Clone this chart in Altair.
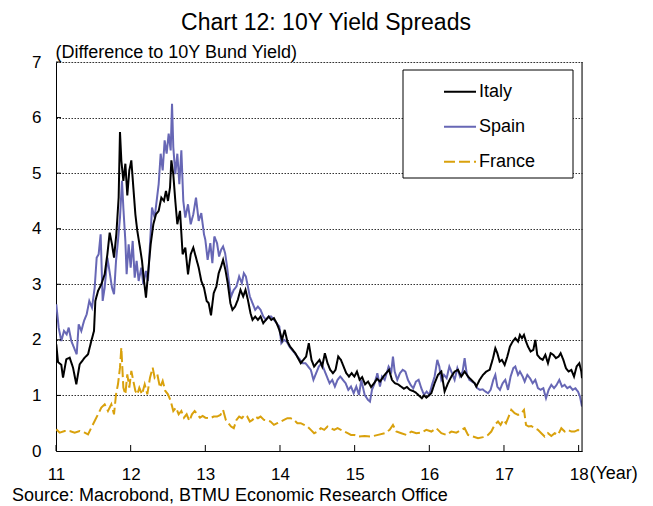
import altair as alt
import pandas as pd

# ---------------- data ----------------
italy_t = [2011.004, 2011.027, 2011.071, 2011.094, 2011.138, 2011.183, 2011.228, 2011.272, 2011.317, 2011.384,
           2011.429, 2011.473, 2011.509, 2011.527, 2011.563, 2011.607, 2011.652, 2011.688, 2011.719, 2011.750,
           2011.777, 2011.808, 2011.839, 2011.857, 2011.875, 2011.902, 2011.929, 2011.955, 2011.982, 2012.009,
           2012.036, 2012.063, 2012.089, 2012.125, 2012.152, 2012.179, 2012.205, 2012.232, 2012.268, 2012.304,
           2012.339, 2012.375, 2012.411, 2012.446, 2012.473, 2012.500, 2012.527, 2012.545, 2012.571, 2012.598,
           2012.625, 2012.661, 2012.696, 2012.732, 2012.768, 2012.804, 2012.839, 2012.875, 2012.911, 2012.946,
           2012.982, 2013.018, 2013.045, 2013.076, 2013.112, 2013.148, 2013.179, 2013.211, 2013.238, 2013.269,
           2013.300, 2013.336, 2013.363, 2013.399, 2013.435, 2013.471, 2013.507, 2013.538, 2013.570, 2013.605,
           2013.632, 2013.668, 2013.704, 2013.740, 2013.776, 2013.812, 2013.848, 2013.883, 2013.919, 2013.955,
           2013.991, 2014.027, 2014.063, 2014.099, 2014.135, 2014.170, 2014.206, 2014.242, 2014.278, 2014.314,
           2014.350, 2014.386, 2014.422, 2014.457, 2014.493, 2014.529, 2014.565, 2014.601, 2014.637, 2014.673,
           2014.709, 2014.744, 2014.780, 2014.816, 2014.852, 2014.888, 2014.924, 2014.960, 2014.996, 2015.031,
           2015.067, 2015.100, 2015.140, 2015.180, 2015.220, 2015.260, 2015.300, 2015.340, 2015.380, 2015.420,
           2015.460, 2015.500, 2015.540, 2015.580, 2015.620, 2015.660, 2015.700, 2015.740, 2015.780, 2015.820,
           2015.860, 2015.900, 2015.930, 2015.960, 2016.027, 2016.071, 2016.116, 2016.161, 2016.205, 2016.250,
           2016.295, 2016.339, 2016.384, 2016.429, 2016.473, 2016.518, 2016.563, 2016.607, 2016.629, 2016.674,
           2016.719, 2016.763, 2016.808, 2016.853, 2016.884, 2016.911, 2016.942, 2016.973, 2017.009, 2017.045,
           2017.080, 2017.116, 2017.152, 2017.188, 2017.214, 2017.241, 2017.268, 2017.295, 2017.321, 2017.357,
           2017.393, 2017.420, 2017.446, 2017.482, 2017.518, 2017.554, 2017.589, 2017.625, 2017.661, 2017.696,
           2017.732, 2017.759, 2017.795, 2017.830, 2017.866, 2017.902, 2017.938, 2017.973, 2018.009, 2018.036,
           2018.045]
italy_v = [1.92, 1.60, 1.55, 1.32, 1.65, 1.68, 1.50, 1.20, 1.56, 1.68,
           1.74, 1.98, 2.16, 2.70, 2.88, 3.00, 3.18, 3.54, 3.93, 3.72,
           3.48, 3.90, 4.56, 5.74, 5.23, 4.86, 5.17, 4.60, 5.05, 5.23,
           4.74, 4.26, 3.96, 3.66, 3.42, 3.06, 2.76, 3.18, 3.72, 4.08,
           4.26, 4.32, 4.56, 4.50, 4.68, 4.50, 4.74, 5.23, 4.98, 4.50,
           4.08, 4.32, 3.54, 3.66, 3.18, 3.54, 3.66, 3.48, 3.30, 3.06,
           2.94, 2.70, 2.66, 2.44, 2.84, 2.96, 3.20, 3.32, 3.44, 3.26,
           3.02, 2.66, 2.54, 2.60, 2.72, 2.90, 2.78, 2.90, 2.72, 2.48,
           2.36, 2.42, 2.36, 2.42, 2.30, 2.36, 2.42, 2.36, 2.39, 2.30,
           2.18, 2.00, 2.18, 1.97, 1.88, 1.82, 1.76, 1.67, 1.58, 1.64,
           1.70, 1.94, 1.64, 1.52, 1.58, 1.64, 1.52, 1.76, 1.58, 1.46,
           1.40, 1.46, 1.70, 1.64, 1.52, 1.40, 1.34, 1.40, 1.34, 1.43,
           1.28, 1.33, 1.20, 1.25, 1.15, 1.22, 1.30, 1.25, 1.33, 1.40,
           1.46, 1.28, 1.22, 1.20, 1.16, 1.12, 1.15, 1.10, 1.08, 1.05,
           1.00, 0.95, 1.00, 0.96, 1.04, 1.22, 1.37, 1.43, 1.07, 1.22,
           1.34, 1.43, 1.46, 1.34, 1.43, 1.34, 1.28, 1.22, 1.16, 1.28,
           1.37, 1.43, 1.46, 1.67, 1.85, 1.76, 1.61, 1.64, 1.55, 1.70,
           1.88, 1.97, 2.03, 1.97, 2.09, 2.03, 2.09, 1.97, 1.88, 1.79,
           1.82, 2.00, 1.73, 1.67, 1.64, 1.73, 1.58, 1.76, 1.73, 1.67,
           1.70, 1.76, 1.64, 1.49, 1.43, 1.46, 1.34, 1.52, 1.58, 1.43,
           1.31]

spain_t = [2011.004, 2011.036, 2011.071, 2011.107, 2011.143, 2011.170, 2011.205, 2011.241, 2011.277, 2011.304,
           2011.339, 2011.375, 2011.411, 2011.446, 2011.482, 2011.518, 2011.545, 2011.571, 2011.598, 2011.625,
           2011.652, 2011.688, 2011.723, 2011.750, 2011.777, 2011.804, 2011.830, 2011.857, 2011.884, 2011.902,
           2011.929, 2011.946, 2011.973, 2012.000, 2012.027, 2012.054, 2012.080, 2012.107, 2012.143, 2012.170,
           2012.205, 2012.232, 2012.259, 2012.286, 2012.321, 2012.348, 2012.375, 2012.402, 2012.429, 2012.455,
           2012.482, 2012.509, 2012.536, 2012.554, 2012.571, 2012.598, 2012.625, 2012.652, 2012.679, 2012.705,
           2012.732, 2012.768, 2012.804, 2012.839, 2012.875, 2012.911, 2012.946, 2012.982, 2013.000, 2013.031,
           2013.067, 2013.094, 2013.121, 2013.157, 2013.184, 2013.211, 2013.238, 2013.265, 2013.291, 2013.318,
           2013.345, 2013.381, 2013.417, 2013.453, 2013.489, 2013.516, 2013.543, 2013.570, 2013.596, 2013.632,
           2013.668, 2013.704, 2013.740, 2013.776, 2013.812, 2013.848, 2013.883, 2013.919, 2013.955, 2013.991,
           2014.018, 2014.054, 2014.090, 2014.126, 2014.161, 2014.197, 2014.233, 2014.269, 2014.305, 2014.341,
           2014.377, 2014.413, 2014.448, 2014.484, 2014.520, 2014.556, 2014.592, 2014.628, 2014.664, 2014.700,
           2014.735, 2014.771, 2014.807, 2014.843, 2014.879, 2014.915, 2014.951, 2014.987, 2015.022, 2015.058,
           2015.089, 2015.134, 2015.179, 2015.205, 2015.232, 2015.268, 2015.304, 2015.339, 2015.366, 2015.402,
           2015.429, 2015.455, 2015.491, 2015.513, 2015.536, 2015.571, 2015.607, 2015.643, 2015.679, 2015.714,
           2015.750, 2015.786, 2015.821, 2015.857, 2015.893, 2015.929, 2015.964, 2016.000, 2016.036, 2016.071,
           2016.107, 2016.134, 2016.161, 2016.196, 2016.232, 2016.268, 2016.304, 2016.339, 2016.375, 2016.411,
           2016.446, 2016.473, 2016.500, 2016.536, 2016.571, 2016.607, 2016.643, 2016.679, 2016.714, 2016.750,
           2016.786, 2016.821, 2016.857, 2016.884, 2016.911, 2016.946, 2016.982, 2017.018, 2017.054, 2017.089,
           2017.125, 2017.152, 2017.188, 2017.214, 2017.250, 2017.277, 2017.313, 2017.348, 2017.384, 2017.420,
           2017.455, 2017.491, 2017.527, 2017.563, 2017.598, 2017.634, 2017.670, 2017.705, 2017.741, 2017.777,
           2017.813, 2017.848, 2017.884, 2017.920, 2017.955, 2017.991, 2018.018, 2018.045]
spain_v = [2.64, 2.22, 1.98, 2.16, 2.10, 2.22, 1.98, 1.86, 1.74, 2.28,
           2.16, 2.34, 2.46, 2.70, 2.58, 2.94, 3.48, 3.54, 3.90, 2.70,
           2.94, 3.48, 3.18, 2.94, 2.82, 3.42, 3.78, 4.20, 4.86, 4.38,
           3.78, 3.18, 3.72, 3.30, 3.78, 3.12, 3.42, 3.06, 3.30, 3.00,
           3.24, 3.06, 3.72, 4.38, 4.20, 4.50, 4.80, 5.35, 5.05, 5.59,
           5.35, 5.71, 5.41, 6.25, 5.47, 4.98, 5.35, 4.80, 5.41, 4.50,
           4.20, 4.44, 4.08, 4.26, 4.56, 4.14, 4.28, 3.90, 3.80, 3.44,
           3.74, 3.38, 3.86, 3.74, 3.50, 3.62, 3.68, 3.56, 3.32, 3.02,
           2.78, 2.90, 2.96, 3.14, 3.02, 3.20, 3.14, 2.96, 2.78, 2.66,
           2.54, 2.60, 2.54, 2.42, 2.36, 2.42, 2.42, 2.36, 2.30, 2.24,
           1.94, 2.00, 1.97, 1.88, 1.82, 1.76, 1.70, 1.64, 1.58, 1.58,
           1.52, 1.46, 1.28, 1.40, 1.52, 1.58, 1.46, 1.34, 1.22, 1.28,
           1.16, 1.28, 1.34, 1.28, 1.22, 1.10, 1.16, 1.04, 1.16, 1.01,
           1.28, 1.01, 0.92, 0.89, 1.10, 1.22, 1.40, 1.16, 1.34, 1.28,
           1.40, 1.52, 1.43, 1.70, 1.43, 1.28, 1.40, 1.46, 1.43, 1.28,
           1.19, 1.13, 1.25, 1.28, 1.13, 1.01, 1.07, 1.01, 1.19, 1.34,
           1.64, 1.52, 1.28, 1.37, 1.31, 1.52, 1.40, 1.28, 1.49, 1.34,
           1.43, 1.67, 1.40, 1.28, 1.25, 1.22, 1.13, 1.10, 1.11, 1.07,
           1.04, 1.10, 1.28, 1.37, 1.16, 1.10, 1.22, 1.28, 1.10, 1.34,
           1.49, 1.52, 1.37, 1.43, 1.34, 1.25, 1.37, 1.31, 1.22, 1.28,
           1.13, 1.10, 1.13, 0.95, 1.10, 1.19, 1.13, 1.19, 1.28, 1.16,
           1.19, 1.13, 1.16, 1.10, 1.13, 1.07, 0.98, 0.80]

france_t = [2011.004, 2011.049, 2011.116, 2011.183, 2011.250, 2011.317, 2011.384, 2011.429, 2011.473, 2011.518,
            2011.563, 2011.607, 2011.652, 2011.696, 2011.741, 2011.777, 2011.804, 2011.830, 2011.857, 2011.875,
            2011.902, 2011.929, 2011.955, 2011.982, 2012.009, 2012.036, 2012.063, 2012.089, 2012.116, 2012.152,
            2012.188, 2012.223, 2012.259, 2012.295, 2012.321, 2012.357, 2012.393, 2012.429, 2012.464, 2012.500,
            2012.536, 2012.571, 2012.607, 2012.643, 2012.679, 2012.714, 2012.750, 2012.786, 2012.821, 2012.857,
            2012.893, 2012.929, 2012.964, 2013.000, 2013.067, 2013.112, 2013.157, 2013.202, 2013.238, 2013.274,
            2013.309, 2013.345, 2013.381, 2013.417, 2013.453, 2013.489, 2013.525, 2013.561, 2013.596, 2013.632,
            2013.668, 2013.704, 2013.740, 2013.785, 2013.830, 2013.874, 2013.919, 2013.964, 2014.009, 2014.054,
            2014.099, 2014.143, 2014.188, 2014.233, 2014.278, 2014.323, 2014.368, 2014.413, 2014.457, 2014.502,
            2014.547, 2014.592, 2014.637, 2014.682, 2014.726, 2014.771, 2014.816, 2014.861, 2014.906, 2014.951,
            2014.996, 2015.045, 2015.134, 2015.223, 2015.313, 2015.402, 2015.469, 2015.513, 2015.558, 2015.625,
            2015.692, 2015.759, 2015.826, 2015.893, 2015.960, 2016.027, 2016.094, 2016.161, 2016.228, 2016.295,
            2016.362, 2016.429, 2016.473, 2016.518, 2016.585, 2016.652, 2016.719, 2016.786, 2016.830, 2016.875,
            2016.920, 2016.955, 2016.991, 2017.027, 2017.063, 2017.098, 2017.143, 2017.188, 2017.232, 2017.268,
            2017.295, 2017.330, 2017.366, 2017.411, 2017.455, 2017.500, 2017.545, 2017.589, 2017.634, 2017.679,
            2017.723, 2017.768, 2017.813, 2017.857, 2017.902, 2017.946, 2017.991, 2018.036]
france_v = [0.39, 0.33, 0.36, 0.36, 0.33, 0.36, 0.33, 0.30, 0.42, 0.54,
            0.66, 0.78, 0.84, 0.72, 0.84, 0.66, 1.02, 1.20, 1.50, 1.86,
            1.14, 1.02, 1.38, 1.14, 1.44, 1.26, 1.08, 1.02, 1.14, 1.02,
            1.20, 1.02, 1.32, 1.50, 1.32, 1.38, 1.14, 1.26, 1.08, 1.02,
            0.90, 0.72, 0.78, 0.66, 0.72, 0.60, 0.66, 0.54, 0.66, 0.72,
            0.66, 0.60, 0.63, 0.60, 0.59, 0.62, 0.62, 0.65, 0.74, 0.56,
            0.50, 0.44, 0.41, 0.56, 0.62, 0.59, 0.65, 0.62, 0.53, 0.56,
            0.62, 0.59, 0.62, 0.56, 0.55, 0.53, 0.47, 0.50, 0.53, 0.56,
            0.59, 0.59, 0.56, 0.50, 0.50, 0.47, 0.44, 0.38, 0.32, 0.35,
            0.41, 0.38, 0.44, 0.41, 0.38, 0.41, 0.38, 0.35, 0.32, 0.29,
            0.29, 0.26, 0.27, 0.26, 0.29, 0.32, 0.38, 0.47, 0.35, 0.32,
            0.29, 0.35, 0.32, 0.33, 0.38, 0.35, 0.41, 0.32, 0.29, 0.35,
            0.33, 0.38, 0.41, 0.29, 0.26, 0.23, 0.25, 0.29, 0.35, 0.47,
            0.53, 0.47, 0.56, 0.50, 0.62, 0.74, 0.68, 0.65, 0.68, 0.74,
            0.47, 0.44, 0.45, 0.41, 0.38, 0.32, 0.26, 0.32, 0.27, 0.32,
            0.29, 0.41, 0.35, 0.38, 0.35, 0.35, 0.38, 0.32]

year_ticks = [2011, 2012, 2013, 2014, 2015, 2016, 2017, 2018]
y_ticks = [0, 1, 2, 3, 4, 5, 6, 7]

SERIES = ["Italy", "Spain", "France"]
COLORS = ["#000000", "#6767B5", "#D9A10C"]
DASHES = [[1, 0], [1, 0], [11, 4]]

# ---------------- build table ----------------
rows = []
for name, ts, vs in [("Spain", spain_t, spain_v), ("Italy", italy_t, italy_v), ("France", france_t, france_v)]:
    for t, v in zip(ts, vs):
        rows.append({"series": name, "t": t, "v": v})
df = pd.DataFrame(rows)

W, H = 526, 389
FONT = "Liberation Sans"
x_scale = alt.Scale(domain=[2011, 2018.045], nice=False, zero=False)
y_scale = alt.Scale(domain=[0, 7], nice=False)

x_axis = alt.Axis(
    values=year_ticks, labelExpr="format(datum.value - 2000, 'd')",
    title="(Year)", titleX=533, titleY=27, titleAlign="left", titleBaseline="alphabetic",
    titleFontSize=18, titleFontWeight="normal", titleColor="black", titleFont=FONT,
    labelFontSize=17, labelPadding=15, labelColor="black", labelFont=FONT, labelFlush=False,
    ticks=False, grid=False, domainColor="black", domainWidth=1)
y_axis = alt.Axis(
    values=y_ticks, title="(Difference to 10Y Bund Yield)", titleAngle=0, titleX=-1, titleY=-5,
    titleAlign="left", titleBaseline="alphabetic", titleFontSize=18, titleFontWeight="normal",
    titleColor="black", titleFont=FONT,
    labelFontSize=17, labelPadding=15, labelColor="black", labelFont=FONT,
    ticks=False, grid=True, gridDash=[1.5, 1.5], gridColor="#333333", gridWidth=1,
    domainColor="black", domainWidth=1)

legend = alt.Legend(title=None, orient="none", legendX=387, legendY=12.7, symbolType="stroke",
                    symbolSize=1024, symbolStrokeWidth=2, labelFontSize=18, labelOffset=2,
                    rowPadding=9, padding=0, labelColor="black", labelFont=FONT)

lines = alt.Chart(df).mark_line(strokeWidth=2, clip=True).encode(
    x=alt.X("t:Q", scale=x_scale, axis=x_axis),
    y=alt.Y("v:Q", scale=y_scale, axis=y_axis),
    color=alt.Color("series:N", scale=alt.Scale(domain=SERIES, range=COLORS), legend=legend),
    strokeDash=alt.StrokeDash("series:N", scale=alt.Scale(domain=SERIES, range=DASHES), legend=legend),
)

xticks = alt.Chart(pd.DataFrame({"t": year_ticks})).mark_rule(color="black", strokeWidth=1).encode(
    x=alt.X("t:Q", scale=x_scale, axis=x_axis), y=alt.value(H), y2=alt.value(H - 6))

yticks = alt.Chart(pd.DataFrame({"v": y_ticks[1:]})).mark_rule(color="black", strokeWidth=1).encode(
    y=alt.Y("v:Q", scale=y_scale, axis=y_axis), x=alt.value(0), x2=alt.value(5))

right_border = alt.Chart(pd.DataFrame({"a": [0]})).mark_rule(color="black", strokeWidth=1).encode(
    x=alt.value(W), y=alt.value(0), y2=alt.value(H))

legend_box = alt.Chart(pd.DataFrame({"a": [0]})).mark_rect(fill="white", stroke="black", strokeWidth=1).encode(
    x=alt.value(347), x2=alt.value(517), y=alt.value(8), y2=alt.value(116))

source = alt.Chart(pd.DataFrame({"a": [0]})).mark_text(
    text="Source: Macrobond, BTMU Economic Research Office", align="left", baseline="alphabetic",
    fontSize=18, font=FONT, color="black").encode(x=alt.value(-44), y=alt.value(439))

chart = alt.layer(lines, xticks, yticks, right_border, legend_box, source).properties(
    width=W, height=H,
    title=alt.TitleParams("Chart 12: 10Y Yield Spreads", fontSize=23, fontWeight="normal", font=FONT,
                          color="black", anchor="middle", dx=7, dy=-4),
    padding={"left": 48, "top": 54, "right": 63, "bottom": 58},
    autosize=alt.AutoSizeParams(type="none"),
).configure_view(stroke=None).configure(font=FONT)

chart.save("out.html", embed_options={"renderer": "svg", "actions": False})
